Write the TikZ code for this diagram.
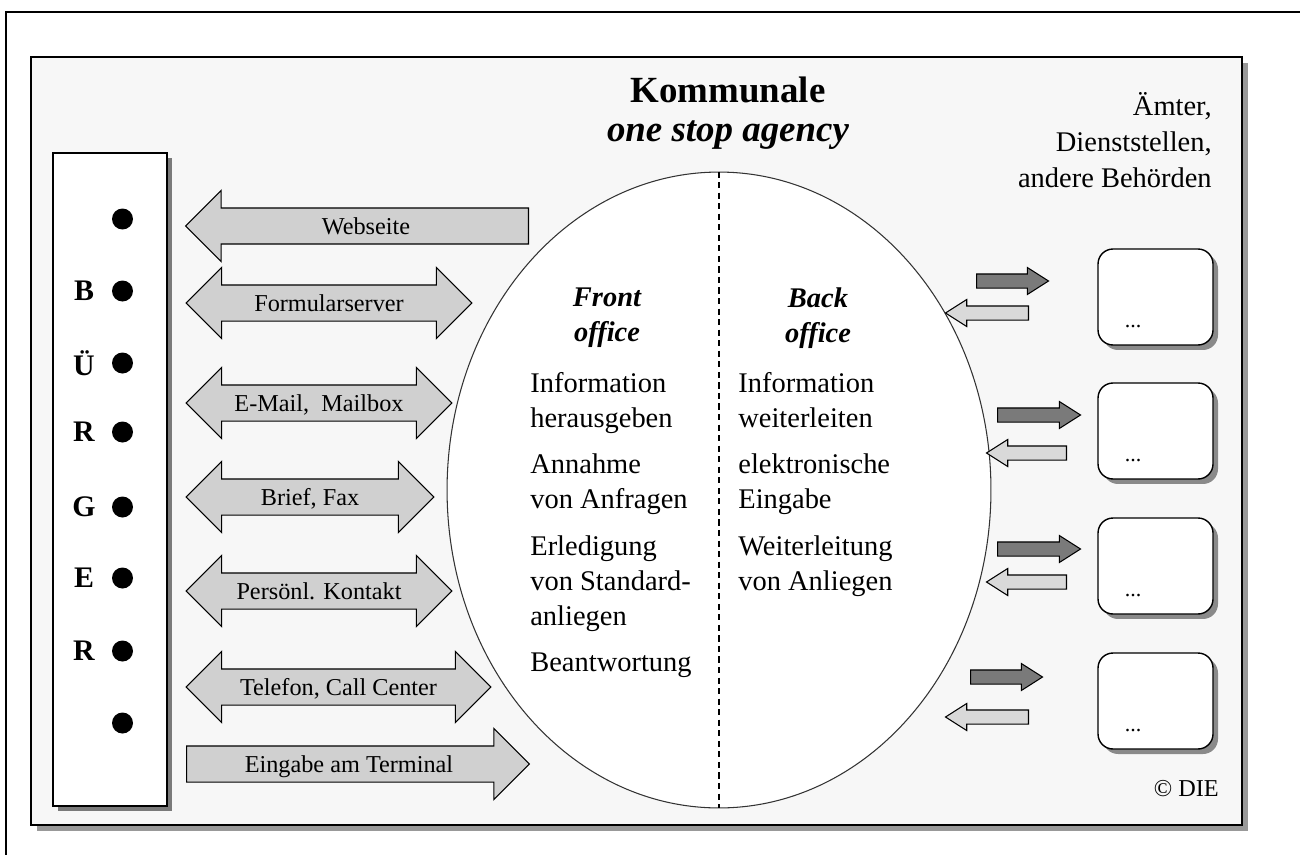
\documentclass[tikz,border=0pt]{standalone}
\usepackage{fontspec}
\setmainfont{Liberation Serif}
\usepackage{tikz}
\usetikzlibrary{
  shapes.geometric, shapes.arrows,
  shadows
}
\definecolor{flaeche}{HTML}{F7F7F7}
\definecolor{kanalgrau}{HTML}{D0D0D0}
\definecolor{dunkelgrau}{HTML}{7A7A7A}
\definecolor{hellgrau}{HTML}{D9D9D9}
\definecolor{schatten}{HTML}{999999}

\begin{document}
\begin{tikzpicture}[x=0.02cm,y=-0.02cm,
    kanal/.style={double arrow,draw,fill=kanalgrau,line width=0.6pt,double arrow head extend=0.35cm,inner sep=0pt,text height=0.52cm,text depth=0.18cm,font=\fontsize{13.8}{14}\selectfont},
    einweg/.style={single arrow,draw,fill=kanalgrau,line width=0.6pt,single arrow head extend=0.35cm,inner sep=0pt,text height=0.52cm,text depth=0.18cm,font=\fontsize{13.8}{14}\selectfont},
    klein/.style={single arrow,draw,line width=0.6pt,inner xsep=0pt,inner ysep=0.13cm,text height=0pt,text depth=0pt,single arrow head extend=0.13cm,single arrow tip angle=65,anchor=tail},
    amt/.style={rectangle,rounded corners=0.3cm,draw,fill=white,line width=0.8pt,minimum width=2.3cm,minimum height=1.92cm,drop shadow={shadow xshift=0.1cm,shadow yshift=-0.1cm,fill=schatten!90!black,opacity=1}},
    punkt/.style={circle,fill,inner sep=0pt,minimum size=0.42cm},
    fliess/.style={font=\fontsize{16.2}{19.8}\selectfont}]
      \path[use as bounding box,fill=white] (0,0) rectangle (1300,855);
      \draw[line width=1.3pt] (5,12) -- (1300,12);
      \draw[line width=1.3pt] (6,12) -- (6,855);
      \node at (636.5,441) [rectangle,draw,fill=flaeche,line width=1pt,minimum width=24.22cm,minimum height=15.36cm,drop shadow={shadow xshift=0.12cm,shadow yshift=-0.12cm,fill=schatten,opacity=1}] (rahmen) {};
      \node at (110,479.5) [rectangle,draw,fill=white,line width=0.9pt,minimum width=2.28cm,minimum height=13.06cm,drop shadow={shadow xshift=0.1cm,shadow yshift=-0.1cm,fill=dunkelgrau,opacity=1}] (buerger) {};
      \foreach \y/\b [count=\i] in {219/,291/B,363/Ü,432/R,507/G,578/E,651/R,723/} {
        \node at (122.5,\y) [punkt] (p\i) {};
        \node at (84,\y) [font=\fontsize{17}{18}\selectfont\bfseries] (b\i) {\b};
      }
      \node at (719,490) [ellipse,draw=black!80,fill=white,line width=0.6pt,minimum width=10.88cm,minimum height=12.72cm] (buero) {};
      \draw[dashed,line width=0.8pt,dash pattern=on 3.5pt off 2.5pt] (buero.north) -- (buero.south);
      \node at (728,113) [align=center,font=\fontsize{21}{22.1}\selectfont\bfseries] (titel) {Kommunale\\\textit{one stop agency}};
      \node at (1212,92) [anchor=north east,align=right,inner sep=0pt,fliess,font=\fontsize{16.2}{20.4}\selectfont] (aemter) {Ämter,\\Dienststellen,\\andere Behörden};
      \node at (529,226) [einweg,shape border rotate=180,minimum height=6.86cm,anchor=tail] (web) {Webseite};
      \node at (329,303) [kanal,minimum height=5.72cm] (formular) {Formularserver};
      \node at (319,403) [kanal,minimum height=5.32cm] (mail) {E-Mail,\ \ Mailbox};
      \node at (310,497) [kanal,minimum height=4.96cm] (brief) {Brief, Fax};
      \node at (319,591) [kanal,minimum height=5.32cm] (kontakt) {Persönl. Kontakt};
      \node at (338.5,687) [kanal,minimum height=6.1cm] (telefon) {Telefon, Call Center};
      \node at (186,764) [einweg,minimum height=6.86cm,anchor=tail] (terminal) {Eingabe am Terminal};
      \node at (607,318) [align=center,fliess,font=\fontsize{16.2}{19.8}\selectfont\bfseries\itshape] (front) {Front\\office};
      \node at (818,318) [align=center,fliess,font=\fontsize{16.2}{19.8}\selectfont\bfseries\itshape] (back) {Back\\office};
      \node at (530,372) [anchor=north west,align=left,inner sep=0pt,fliess] (vorn) {Information\\herausgeben\\[6.8pt]Annahme\\von Anfragen\\[6.8pt]Erledigung\\von Standard-\\anliegen\\[6.8pt]Beantwortung};
      \node at (738,372) [anchor=north west,align=left,inner sep=0pt,fliess] (hinten) {Information\\weiterleiten\\[6.8pt]elektronische\\Eingabe\\[6.8pt]Weiterleitung\\von Anliegen};
      \foreach \y [count=\i] in {297,431,566,701} {
        \node at (1155.5,\y) [amt] (amt\i) {};
        \node at (1133,\y+30) [font=\fontsize{12.5}{13}\selectfont] (rest\i) {...};
      }
      \foreach \xa/\ya/\la/\xb/\yb/\lb [count=\i] in {976/281/1.44/1029/313/1.66,997/415/1.66/1067/453/1.6,997/549/1.66/1067/582/1.6,970/677/1.44/1029/717/1.66} {
        \node at (\xa,\ya) [klein,fill=dunkelgrau,minimum height=\la cm] (hin\i) {};
        \node at (\xb,\yb) [klein,fill=hellgrau,shape border rotate=180,minimum height=\lb cm] (zurueck\i) {};
      }
      \node at (1219,789) [anchor=east,inner sep=0pt,font=\fontsize{13.8}{14}\selectfont] (quelle) {© DIE};
  \end{tikzpicture}
\end{document}
